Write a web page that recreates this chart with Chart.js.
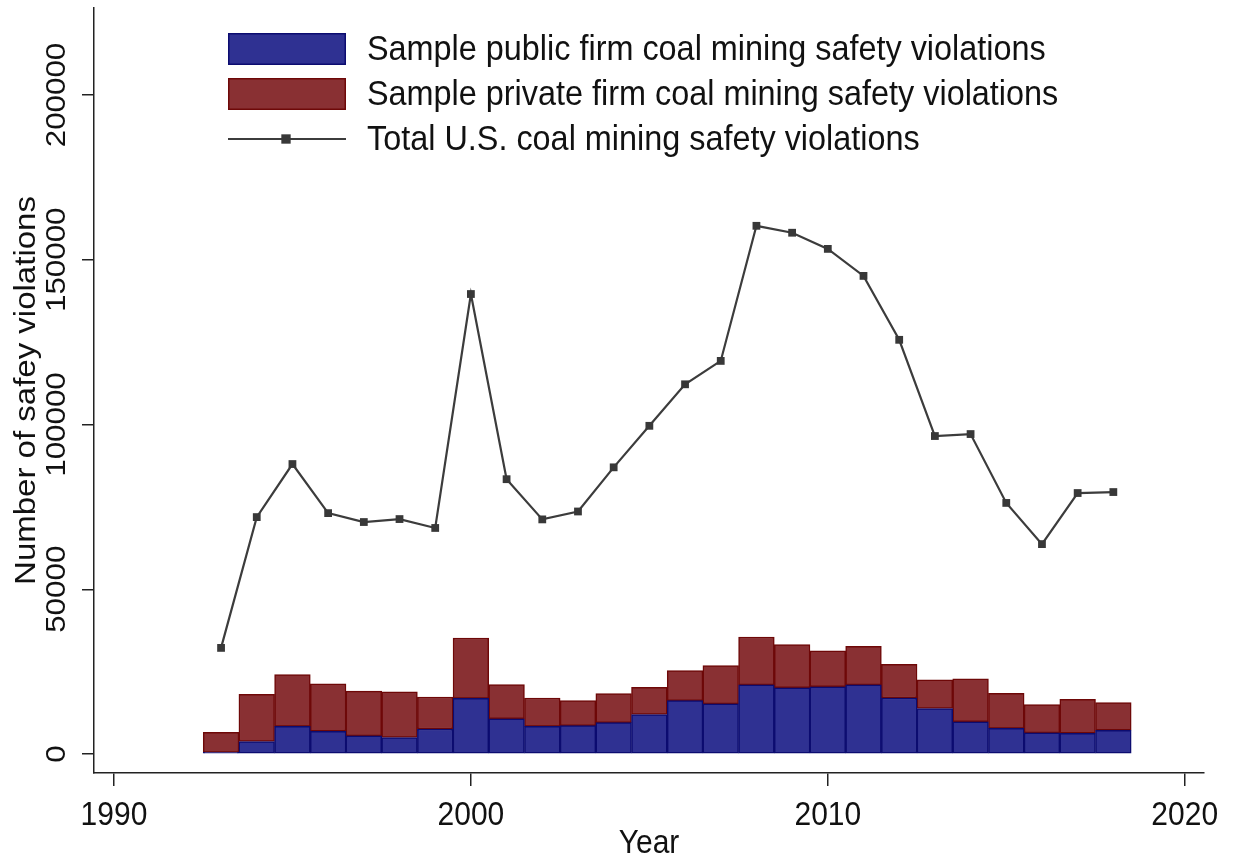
<!DOCTYPE html>
<html>
<head>
<meta charset="utf-8">
<script src="https://cdn.jsdelivr.net/npm/chart.js@4/dist/chart.umd.min.js"></script>
<style>
  html, body { margin: 0; padding: 0; background: #ffffff; }
  #wrap { width: 1233px; height: 858px; position: relative; }
</style>
</head>
<body>
<div id="wrap"><canvas id="chart" width="1233" height="858"></canvas></div>
<script>
// Coal mining safety violations by year
const years = [1993, 1994, 1995, 1996, 1997, 1998, 1999, 2000, 2001, 2002, 2003, 2004, 2005,
               2006, 2007, 2008, 2009, 2010, 2011, 2012, 2013, 2014, 2015, 2016, 2017, 2018];
const publicFirmViolations = [500, 3800, 8400, 6900, 5500, 5000, 7600, 16900, 10700, 8400, 8600, 9500, 12000,
                              16200, 15200, 21000, 20100, 20400, 21000, 17000, 13800, 9800, 7800, 6400, 6300, 7200];
const privateFirmViolations = [6100, 14300, 15700, 14400, 13600, 13900, 9700, 18300, 10400, 8600, 7600, 8800, 8200,
                               9100, 11600, 14500, 13100, 10900, 11700, 10200, 8700, 13000, 10600, 8600, 10300, 8400];
const totalUSViolations = [32200, 71900, 88000, 73100, 70400, 71300, 68600, 139600, 83400, 71200, 73600, 87000, 99600,
                           112200, 119300, 160300, 158200, 153300, 145100, 125700, 96500, 97100, 76200, 63700, 79200, 79500];

const xTickValues = [1990, 2000, 2010, 2020];
const yTickValues = [0, 50000, 100000, 150000, 200000];

const seriesLabels = [
  'Sample public firm coal mining safety violations',
  'Sample private firm coal mining safety violations',
  'Total U.S. coal mining safety violations'
];
const xTitle = 'Year';
const yTitle = 'Number of safey violations';

const FONT = '"Liberation Sans", Arial, sans-serif';
const INK = '#111111';

const toPoints = (vals) => years.map((y, i) => ({ x: y, y: vals[i] }));

// fillText with optional rotation and vertical stretch
function drawText(ctx, str, x, y, size, opts) {
  const o = Object.assign({ align: 'center', baseline: 'alphabetic', rotate: 0, sy: 1.1 }, opts || {});
  ctx.save();
  ctx.translate(x, y);
  ctx.scale(1, o.sy);
  ctx.rotate(o.rotate);
  ctx.font = size + 'px ' + FONT;
  ctx.fillStyle = INK;
  ctx.textAlign = o.align;
  ctx.textBaseline = o.baseline;
  ctx.fillText(str, 0, 0);
  ctx.restore();
}

// Axis labels, titles and the in-plot legend
const annotate = {
  id: 'annotate',
  afterDraw(chart) {
    const ctx = chart.ctx;
    const xs = chart.scales.x, ys = chart.scales.y;
    const area = chart.chartArea;

    xTickValues.forEach(v => {
      drawText(ctx, String(v), xs.getPixelForValue(v), 825, 30);
    });
    yTickValues.forEach(v => {
      drawText(ctx, String(v), 65, ys.getPixelForValue(v), 28.5, { rotate: -Math.PI / 2 });
    });

    drawText(ctx, xTitle, (area.left + area.right) / 2, 853, 30);
    drawText(ctx, yTitle, 35, (area.top + area.bottom) / 2, 30, { rotate: -Math.PI / 2 });

    // legend
    const ds = chart.data.datasets;
    const keyL = 228, keyR = 346, textX = 367;
    const rows = [49, 94, 139];
    for (let i = 0; i < 2; i++) {
      ctx.save();
      ctx.fillStyle = ds[i].backgroundColor;
      ctx.strokeStyle = ds[i].borderColor;
      ctx.lineWidth = 1.5;
      ctx.fillRect(keyL, rows[i] - 16, keyR - keyL, 32);
      ctx.strokeRect(keyL + 0.75, rows[i] - 16 + 0.75, keyR - keyL - 1.5, 32 - 1.5);
      ctx.restore();
    }
    ctx.save();
    ctx.strokeStyle = ds[2].borderColor;
    ctx.lineWidth = ds[2].borderWidth;
    ctx.beginPath();
    ctx.moveTo(keyL, rows[2]);
    ctx.lineTo(keyR, rows[2]);
    ctx.stroke();
    ctx.fillStyle = ds[2].pointBackgroundColor;
    const r = ds[2].pointRadius;
    ctx.fillRect(286 - r * 0.85, rows[2] - r * 0.85, 1.7 * r, 1.7 * r);
    ctx.restore();
    seriesLabels.forEach((t, i) => {
      drawText(ctx, t, textX, rows[i] + 11, 32.4, { align: 'left' });
    });
  }
};

new Chart(document.getElementById('chart'), {
  type: 'bar',
  data: {
    datasets: [
      {
        label: seriesLabels[0],
        data: toPoints(publicFirmViolations),
        backgroundColor: '#2f3192',
        borderColor: '#0c0c70',
        borderWidth: 1.5,
        borderSkipped: false,
        barPercentage: 1,
        categoryPercentage: 1,
        stack: 'sample',
        order: 2
      },
      {
        label: seriesLabels[1],
        data: toPoints(privateFirmViolations),
        backgroundColor: '#893033',
        borderColor: '#6e0808',
        borderWidth: 1.5,
        borderSkipped: false,
        barPercentage: 1,
        categoryPercentage: 1,
        stack: 'sample',
        order: 2
      },
      {
        type: 'line',
        label: seriesLabels[2],
        data: toPoints(totalUSViolations),
        borderColor: '#3c3c3c',
        borderWidth: 2.2,
        pointStyle: 'rect',
        pointRadius: 5.5,
        pointBackgroundColor: '#383838',
        pointBorderColor: '#383838',
        pointBorderWidth: 0,
        tension: 0,
        fill: false,
        stack: 'total',
        order: 1
      }
    ]
  },
  options: {
    responsive: false,
    animation: false,
    layout: { padding: { top: 8, right: 29, left: 0, bottom: 0 } },
    plugins: { legend: { display: false }, tooltip: { enabled: false } },
    scales: {
      x: {
        type: 'linear',
        offset: false,
        min: 1989.44,
        max: 2020.54,
        afterBuildTicks: (s) => { s.ticks = xTickValues.map(v => ({ value: v })); },
        afterFit: (s) => { s.height = 85; },
        ticks: { display: false },
        grid: { display: true, offset: false, drawOnChartArea: false, drawTicks: true, tickLength: 13, color: '#222', lineWidth: 1.5 },
        border: { display: true, color: '#222', width: 1.5 }
      },
      y: {
        type: 'linear',
        stacked: true,
        min: -5766,
        max: 226404,
        afterBuildTicks: (s) => { s.ticks = yTickValues.map(v => ({ value: v })); },
        afterFit: (s) => { s.width = 94; },
        ticks: { display: false },
        grid: { display: true, offset: false, drawOnChartArea: false, drawTicks: true, tickLength: 12, color: '#222', lineWidth: 1.5 },
        border: { display: true, color: '#222', width: 1.5 }
      }
    }
  },
  plugins: [annotate]
});
</script>
</body>
</html>
